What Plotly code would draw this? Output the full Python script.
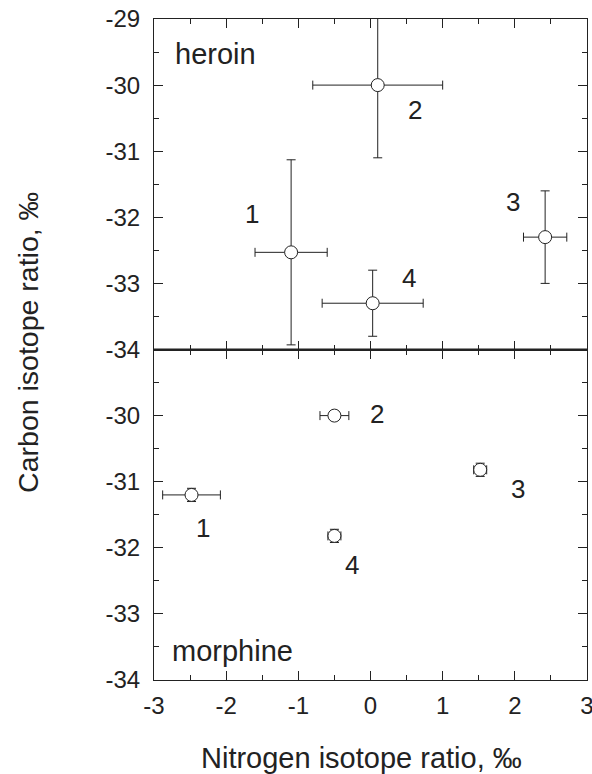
import plotly.graph_objects as go
from plotly.subplots import make_subplots

# ---- data ----
sample_ids = ["1", "2", "3", "4"]

heroin_n = [-1.1, 0.1, 2.42, 0.03]
heroin_n_err = [0.5, 0.9, 0.3, 0.7]
heroin_c = [-32.53, -30.0, -32.3, -33.3]
heroin_c_err = [1.4, 1.1, 0.7, 0.5]

morphine_n = [-2.48, -0.5, 1.52, -0.5]
morphine_n_err = [0.4, 0.2, 0.09, 0.09]
morphine_c = [-31.2, -30.0, -30.82, -31.82]
morphine_c_err = [0.1, 0.03, 0.1, 0.1]

x_ticks = [-3, -2, -1, 0, 1, 2, 3]
x_tick_labels = ["-3", "-2", "-1", "0", "1", "2", "3"]
y_ticks_top = [-34, -33, -32, -31, -30, -29]
y_tick_labels_top = ["-34", "-33", "-32", "-31", "-30", "-29"]
y_ticks_bottom = [-34, -33, -32, -31, -30]
y_tick_labels_bottom = ["-34", "-33", "-32", "-31", "-30"]

# ---- style ----
FONT = "Liberation Sans"
INK = "#222222"
heroin_label_offsets = [(-39, -38), (37, 25), (-32, -35), (36, -25)]
morphine_label_offsets = [(11, 33), (43, -2), (38, 19), (18, 29)]

fig = make_subplots(rows=2, cols=1, shared_xaxes=True, vertical_spacing=0)

def add_series(xs, xe, ys, ye, row):
    fig.add_trace(go.Scatter(
        x=xs, y=ys, mode="markers",
        error_x=dict(type="data", array=xe, visible=True, thickness=1, width=4.5, color=INK),
        error_y=dict(type="data", array=ye, visible=True, thickness=1, width=4.5, color=INK),
        marker=dict(symbol="circle", size=13, color="white", line=dict(color=INK, width=1)),
        showlegend=False, cliponaxis=True,
    ), row=row, col=1)

add_series(heroin_n, heroin_n_err, heroin_c, heroin_c_err, 1)
add_series(morphine_n, morphine_n_err, morphine_c, morphine_c_err, 2)

annotations = []
for lab, x, y, (dx, dy) in zip(sample_ids, heroin_n, heroin_c, heroin_label_offsets):
    annotations.append(dict(text=lab, x=x, y=y, xref="x", yref="y", showarrow=False,
                            xshift=dx, yshift=-dy, font=dict(family=FONT, size=26, color=INK)))
for lab, x, y, (dx, dy) in zip(sample_ids, morphine_n, morphine_c, morphine_label_offsets):
    annotations.append(dict(text=lab, x=x, y=y, xref="x2", yref="y2", showarrow=False,
                            xshift=dx, yshift=-dy, font=dict(family=FONT, size=26, color=INK)))

annotations += [
    dict(text="heroin", x=0.045, y=0.947, xref="paper", yref="paper", xanchor="left",
         yanchor="middle", showarrow=False, font=dict(family=FONT, size=29, color=INK)),
    dict(text="morphine", x=0.038, y=0.044, xref="paper", yref="paper", xanchor="left",
         yanchor="middle", showarrow=False, font=dict(family=FONT, size=29, color=INK)),
    dict(text="Nitrogen isotope ratio, ‰", x=0.48, y=0, xref="paper", yref="paper",
         yanchor="middle", yshift=-78, showarrow=False, font=dict(family=FONT, size=29, color=INK)),
    dict(text="Carbon isotope ratio, ‰", x=0, y=0.51, xref="paper", yref="paper",
         xanchor="center", xshift=-126, textangle=-90, showarrow=False,
         font=dict(family=FONT, size=28.5, color=INK)),
]

axis_common = dict(showline=True, linecolor=INK, linewidth=1, mirror="ticks",
                   ticks="inside", ticklen=9, tickwidth=1, tickcolor=INK,
                   showgrid=False, zeroline=False, ticklabeloverflow="allow", automargin=False,
                   tickfont=dict(family=FONT, size=24, color=INK),
                   minor=dict(ticks="inside", ticklen=5, tickwidth=1, tickcolor=INK, dtick=0.5, showgrid=False))

fig.update_xaxes(range=[-3, 3], tickvals=x_ticks, ticktext=x_tick_labels, **axis_common)
fig.update_xaxes(showticklabels=False, row=1, col=1)
fig.update_xaxes(ticklabelstandoff=4, row=2, col=1)
fig.update_yaxes(range=[-34, -29], **axis_common)
fig.update_yaxes(tickvals=y_ticks_top, ticktext=y_tick_labels_top, ticklabelstandoff=8, row=1, col=1)
fig.update_yaxes(tickvals=y_ticks_bottom, ticktext=y_tick_labels_bottom, ticklabelstandoff=8, row=2, col=1)

fig.update_layout(
    width=592, height=774,
    margin=dict(l=154, r=5, t=19, b=94, autoexpand=False),
    paper_bgcolor="white", plot_bgcolor="white",
    annotations=annotations,
    shapes=[dict(type="line", xref="paper", yref="paper", x0=0, x1=1, y0=0.5, y1=0.5,
                 line=dict(color=INK, width=2))],
)

fig.write_html("out.html", config={"displayModeBar": False},
               post_script="document.body.style.margin='0';")
